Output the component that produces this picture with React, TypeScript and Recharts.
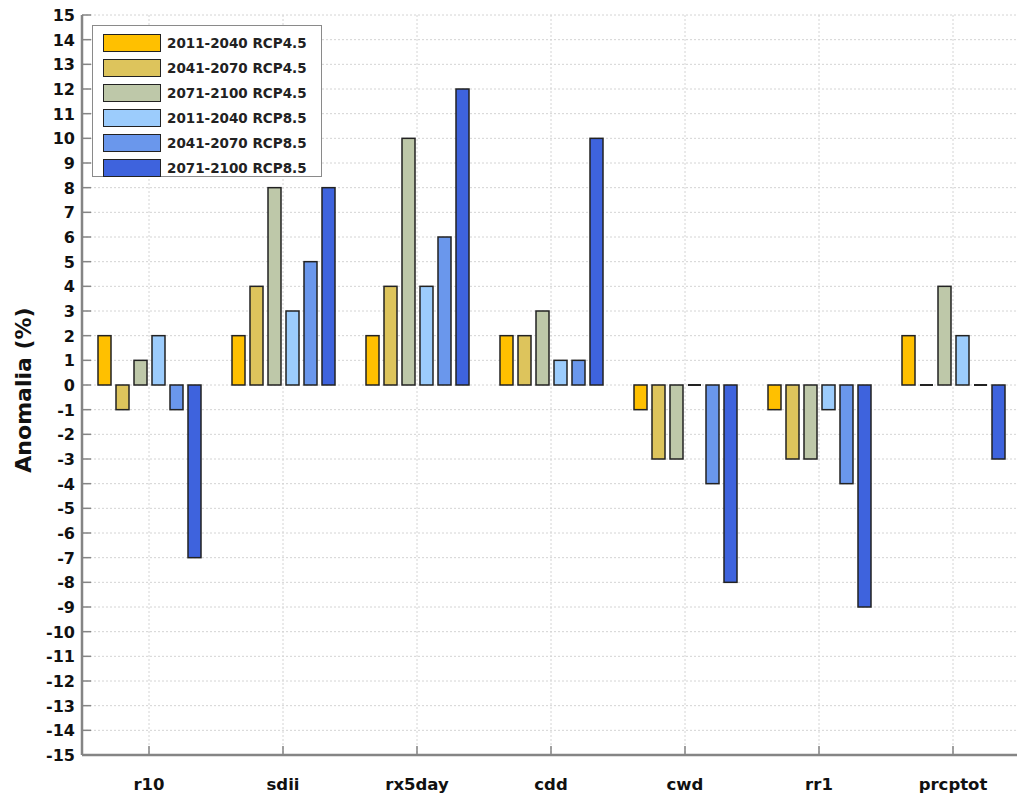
import React from "react";
import { Bar, BarChart, CartesianGrid, XAxis, YAxis } from "recharts";

const categories = ["r10", "sdii", "rx5day", "cdd", "cwd", "rr1", "prcptot"];

const rcp45_2011 = [2, 2, 2, 2, -1, -1, 2];
const rcp45_2041 = [-1, 4, 4, 2, -3, -3, 0];
const rcp45_2071 = [1, 8, 10, 3, -3, -3, 4];
const rcp85_2011 = [2, 3, 4, 1, 0, -1, 2];
const rcp85_2041 = [-1, 5, 6, 1, -4, -4, 0];
const rcp85_2071 = [-7, 8, 12, 10, -8, -9, -3];

const yTicks = Array.from({ length: 31 }, (_, i) => i - 15);

const series = [
  { key: "a", name: "2011-2040 RCP4.5", color: "#FFC000", values: rcp45_2011 },
  { key: "b", name: "2041-2070 RCP4.5", color: "#DDC45C", values: rcp45_2041 },
  { key: "c", name: "2071-2100 RCP4.5", color: "#BEC8A9", values: rcp45_2071 },
  { key: "d", name: "2011-2040 RCP8.5", color: "#9CCCFC", values: rcp85_2011 },
  { key: "e", name: "2041-2070 RCP8.5", color: "#6A97EC", values: rcp85_2041 },
  { key: "f", name: "2071-2100 RCP8.5", color: "#3E63DD", values: rcp85_2071 },
];

const data = categories.map((label, i) => {
  const row: Record<string, string | number> = { label };
  series.forEach((s) => {
    row[s.key] = s.values[i];
  });
  return row;
});

const PLOT_LEFT = 82;
const PLOT_TOP = 15;
const PLOT_BOTTOM = 755;
const FRAME = "#858585";
const FONT = "'DejaVu Sans', sans-serif";

function YTick({ y, payload }: any) {
  return (
    <g>
      <line x1={PLOT_LEFT} x2={PLOT_LEFT + 9} y1={y} y2={y} stroke={FRAME} strokeWidth={1.5} />
      <text x={75} y={y} dy={6} textAnchor="end" fontFamily={FONT} fontWeight="bold" fontSize={16} fill="#111">
        {payload.value}
      </text>
    </g>
  );
}

function XTick({ x, payload }: any) {
  return (
    <g>
      <line x1={x} x2={x} y1={PLOT_BOTTOM} y2={PLOT_BOTTOM - 9} stroke={FRAME} strokeWidth={1.5} />
      <text x={x} y={790} textAnchor="middle" fontFamily={FONT} fontWeight="bold" fontSize={16.5} fill="#111">
        {payload.value}
      </text>
    </g>
  );
}

function TopTick({ x }: any) {
  return <line x1={x} x2={x} y1={PLOT_TOP} y2={PLOT_TOP + 9} stroke={FRAME} strokeWidth={1.5} />;
}

function BarShape(props: any) {
  const { x, y, width, height, fill } = props;
  if (!height || Math.abs(height) < 0.5) {
    return <line x1={x} x2={x + width} y1={y} y2={y} stroke="#222" strokeWidth={2} />;
  }
  const top = height < 0 ? y + height : y;
  return (
    <rect x={x} y={top} width={width} height={Math.abs(height)} fill={fill} stroke="#222" strokeWidth={1.5} />
  );
}

function LegendBox() {
  return (
    <div
      style={{
        position: "absolute",
        left: 92,
        top: 25,
        width: 230,
        height: 152,
        border: "1px solid #8a8a8a",
        background: "#fff",
        boxSizing: "border-box",
        paddingTop: 4,
        paddingLeft: 10,
      }}
    >
      {series.map((s) => (
        <div key={s.key} style={{ display: "flex", alignItems: "center", height: 25 }}>
          <div
            style={{
              width: 58,
              height: 18,
              background: s.color,
              border: "1.5px solid #222",
              boxSizing: "border-box",
            }}
          />
          <span
            style={{
              marginLeft: 6,
              fontFamily: FONT,
              fontWeight: "bold",
              fontSize: 13.5,
              color: "#222",
              whiteSpace: "nowrap",
            }}
          >
            {s.name}
          </span>
        </div>
      ))}
    </div>
  );
}

export default function App() {
  return (
    <div style={{ position: "absolute", left: 0, top: 0, width: 1017, height: 794, background: "#fff", overflow: "hidden" }}>
      <BarChart
        width={1017}
        height={794}
        data={data}
        margin={{ top: PLOT_TOP, right: -3, bottom: 9, left: 22 }}
        barCategoryGap={16}
        barGap={5}
      >
        <CartesianGrid stroke="#d4d4d4" strokeDasharray="2 2" strokeWidth={1} />
        <XAxis
          dataKey="label"
          height={30}
          interval={0}
          tickLine={false}
          axisLine={{ stroke: FRAME, strokeWidth: 2.5 }}
          tick={<XTick />}
        />
        <XAxis
          xAxisId="top"
          dataKey="label"
          orientation="top"
          height={0}
          interval={0}
          tickLine={false}
          axisLine={{ stroke: FRAME, strokeWidth: 2.5 }}
          tick={<TopTick />}
        />
        <YAxis
          width={60}
          domain={[-15, 15]}
          ticks={yTicks}
          interval={0}
          tickLine={false}
          axisLine={{ stroke: FRAME, strokeWidth: 2.5 }}
          tick={<YTick />}
          label={{
            content: () => (
              <text
                x={23}
                y={390}
                transform="rotate(-90 23 390)"
                textAnchor="middle"
                dominantBaseline="central"
                fontFamily={FONT}
                fontWeight="bold"
                fontSize={22}
                fill="#111"
              >
                Anomalia (%)
              </text>
            ),
          }}
        />
        {series.map((s) => (
          <Bar key={s.key} dataKey={s.key} name={s.name} fill={s.color} shape={<BarShape />} isAnimationActive={false} />
        ))}
      </BarChart>
      <LegendBox />
    </div>
  );
}
